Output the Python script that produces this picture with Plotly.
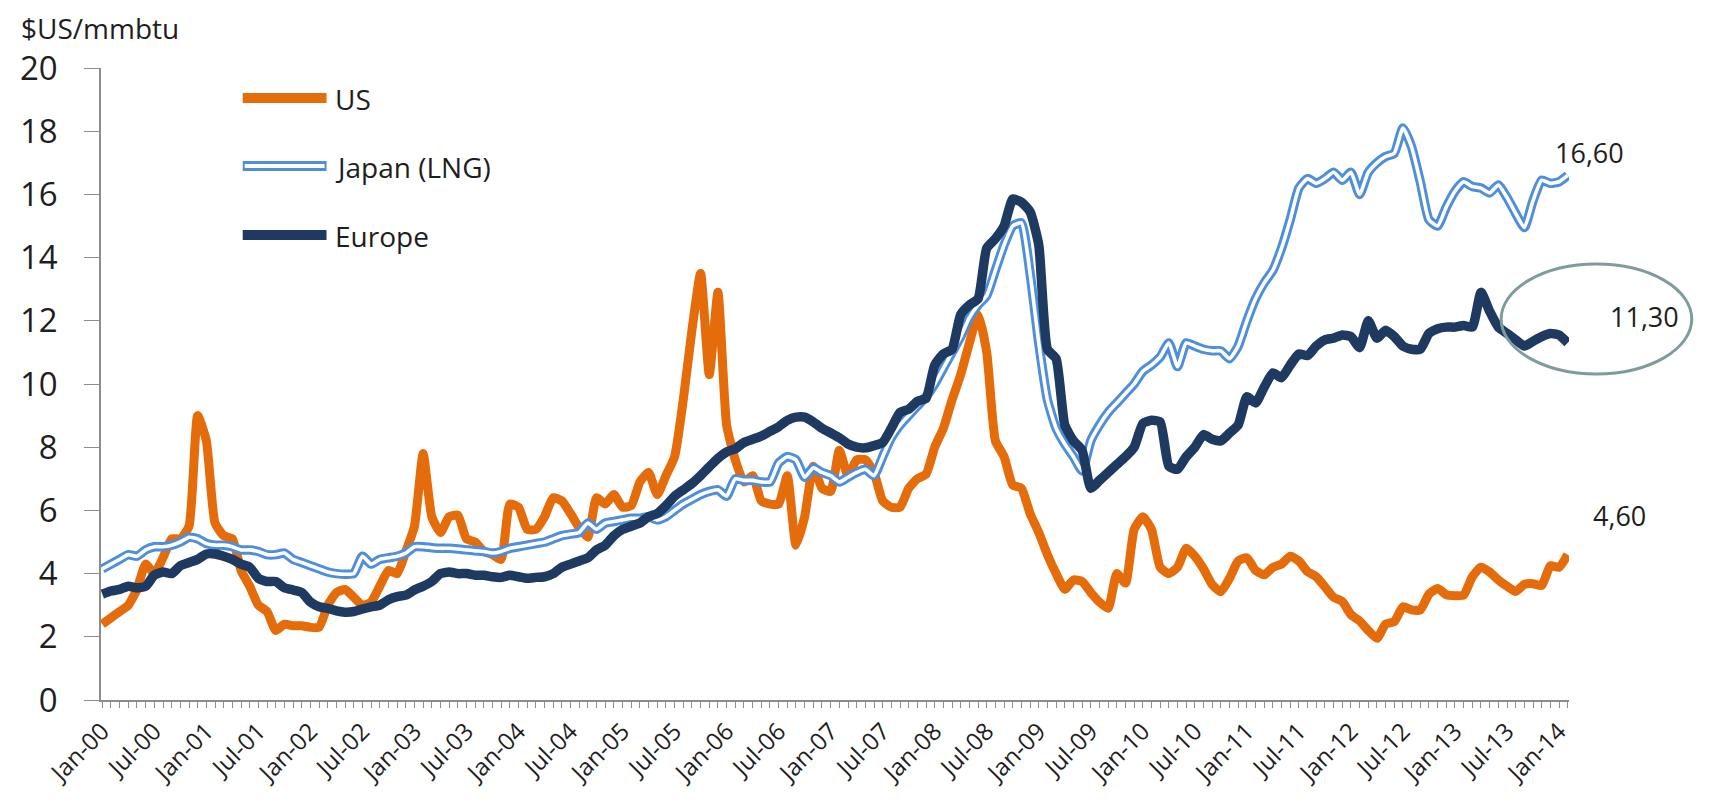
import pandas as pd
import plotly.graph_objects as go

# ---- categories (monthly, Jan-00 .. Feb-14) ----
months = pd.date_range("2000-01-01", periods=170, freq="MS").strftime("%b-%y").tolist()
tick_labels = [m if m[:3] in ("Jan", "Jul") else "" for m in months]

# ---- series values ($US/mmbtu) ----
us = [
    2.4, 2.6, 2.8, 3.0, 3.5, 4.3, 4.0, 4.5, 5.1, 5.1, 5.5, 9.0,            # 2000
    8.2, 5.6, 5.2, 5.1, 4.1, 3.6, 3.0, 2.8, 2.2, 2.4, 2.35, 2.35,          # 2001
    2.3, 2.3, 3.0, 3.4, 3.5, 3.25, 3.0, 3.1, 3.6, 4.1, 4.0, 4.7,           # 2002
    5.5, 7.8, 5.8, 5.3, 5.8, 5.85, 5.1, 5.0, 4.7, 4.6, 4.45, 6.2,          # 2003
    6.1, 5.4, 5.4, 5.8, 6.4, 6.3, 5.9, 5.45, 5.15, 6.4, 6.2, 6.5,          # 2004
    6.1, 6.15, 6.9, 7.2, 6.5, 7.1, 7.7, 9.5, 11.7, 13.5, 10.3, 12.9,       # 2005
    8.7, 7.6, 6.9, 7.1, 6.3, 6.2, 6.2, 7.1, 4.9, 5.8, 7.4, 6.7,            # 2006
    6.6, 7.9, 7.1, 7.6, 7.6, 7.2, 6.3, 6.1, 6.1, 6.7, 7.0, 7.15,           # 2007
    8.0, 8.6, 9.5, 10.3, 11.3, 12.2, 11.0, 8.2, 7.7, 6.8, 6.7, 5.9,        # 2008
    5.3, 4.6, 4.0, 3.5, 3.8, 3.75, 3.4, 3.1, 2.9, 4.0, 3.7, 5.4,           # 2009
    5.8, 5.4, 4.2, 4.0, 4.2, 4.8, 4.55, 4.15, 3.65, 3.43, 3.85, 4.4,       # 2010
    4.5, 4.1, 3.96, 4.2, 4.3, 4.55, 4.4, 4.06, 3.9, 3.58, 3.25, 3.12,      # 2011
    2.7, 2.5, 2.2, 1.95, 2.4, 2.48, 2.95, 2.85, 2.85, 3.35, 3.53, 3.33,    # 2012
    3.3, 3.32, 3.9, 4.2, 4.05, 3.8, 3.6, 3.43, 3.66, 3.68, 3.62, 4.25,     # 2013
    4.2, 4.6,                                                              # 2014
]
japan = [
    4.15, 4.3, 4.45, 4.6, 4.55, 4.75, 4.85, 4.85, 4.9, 5.0, 5.15, 5.1,
    4.95, 4.9, 4.9, 4.85, 4.75, 4.75, 4.7, 4.6, 4.6, 4.65, 4.45, 4.35,
    4.25, 4.15, 4.05, 4.0, 3.98, 4.0, 4.55, 4.3, 4.45, 4.5, 4.55, 4.65,
    4.85, 4.85, 4.82, 4.8, 4.8, 4.78, 4.75, 4.72, 4.7, 4.65, 4.7, 4.8,
    4.85, 4.9, 4.95, 5.0, 5.1, 5.2, 5.25, 5.3, 5.6, 5.4, 5.6, 5.65,
    5.7, 5.75, 5.75, 5.8, 5.7, 5.8, 6.0, 6.2, 6.35, 6.5, 6.6, 6.65,
    6.45, 7.0, 6.95, 6.95, 6.9, 6.9, 7.5, 7.7, 7.6, 7.05, 7.35, 7.2,
    7.1, 6.9, 7.05, 7.2, 7.3, 7.1, 7.7, 8.3, 8.7, 9.0, 9.3, 9.6,
    10.0, 10.5, 11.0, 11.5, 12.1, 12.5, 12.8, 13.6, 14.4, 15.0, 15.1, 13.5,
    11.3, 9.5, 8.6, 8.1, 7.7, 7.25, 8.2, 8.7, 9.1, 9.4, 9.7, 10.0,
    10.4, 10.6, 10.85, 11.3, 10.55, 11.3, 11.2, 11.1, 11.05, 11.05, 10.8, 11.2,
    12.0, 12.7, 13.2, 13.6, 14.3, 15.2, 16.2, 16.5, 16.35, 16.5, 16.7, 16.45,
    16.7, 16.0, 16.7, 17.0, 17.2, 17.3, 18.1, 17.5, 16.4, 15.2, 15.0, 15.6,
    16.1, 16.4, 16.25, 16.2, 16.05, 16.3, 15.9, 15.4, 14.95, 15.8, 16.45, 16.35,
    16.4, 16.6,
]
europe = [
    3.35, 3.45, 3.5, 3.6, 3.55, 3.6, 3.95, 4.05, 4.0, 4.25, 4.35, 4.45,
    4.62, 4.62, 4.55, 4.45, 4.3, 4.2, 3.85, 3.75, 3.75, 3.55, 3.48, 3.4,
    3.1, 2.95, 2.9, 2.82, 2.78, 2.8, 2.88, 2.95, 3.0, 3.17, 3.27, 3.32,
    3.48, 3.6, 3.75, 4.0, 4.05, 4.0, 4.0, 3.95, 3.95, 3.9, 3.88, 3.95,
    3.9, 3.85, 3.88, 3.9, 4.0, 4.2, 4.3, 4.4, 4.5, 4.75, 4.9, 5.2,
    5.4, 5.5, 5.6, 5.8, 5.9, 6.15, 6.45, 6.65, 6.85, 7.1, 7.38, 7.65,
    7.85, 7.95, 8.15, 8.25, 8.35, 8.5, 8.65, 8.85, 8.95, 8.95, 8.8, 8.6,
    8.45, 8.3, 8.1, 8.0, 7.98, 8.05, 8.15, 8.6, 9.1, 9.2, 9.45, 9.55,
    10.6, 10.95, 11.1, 12.2, 12.5, 12.7, 14.3, 14.6, 15.0, 15.85, 15.75, 15.45,
    14.4, 11.1, 10.8, 8.7, 8.2, 7.9, 6.7, 6.95, 7.2, 7.45, 7.7, 8.0,
    8.75, 8.85, 8.8, 7.4, 7.3, 7.7, 8.0, 8.4, 8.25, 8.2, 8.45, 8.7,
    9.6, 9.4, 9.9, 10.35, 10.2, 10.6, 10.95, 10.9, 11.2, 11.4, 11.45, 11.55,
    11.5, 11.15, 12.0, 11.45, 11.7, 11.5, 11.2, 11.1, 11.1, 11.6, 11.75, 11.8,
    11.8, 11.85, 11.8, 12.9, 12.3, 11.8, 11.6, 11.4, 11.2, 11.35, 11.5, 11.6,
    11.55, 11.3,
]
series_names = ["US", "Japan (LNG)", "Europe"]
end_labels = ["4,60", "16,60", "11,30"]
y_title = "$US/mmbtu"

assert len(us) == len(japan) == len(europe) == len(months)

# ---- styling ----
ORANGE = "#E46C0A"
BLUE = "#4F8EDB"
NAVY = "#1F3A60"
AXIS = "#8C8C8C"
TXT = "#1E1E1E"
FONT = "Open Sans"

W, H = 1724, 805
OFF = 8                              # page body margin offset
L, R, T, B = 98, 1569, 68, 700       # plot area in page pixels


def px(x):
    return (x - L) / (R - L)


def py(y):
    return (B - y) / (B - T)


spline = dict(shape="spline", smoothing=0.5)

fig = go.Figure()
fig.add_trace(go.Scatter(x=months, y=us, mode="lines", name=series_names[0],
                         line=dict(color=ORANGE, width=9, **spline)))
fig.add_trace(go.Scatter(x=months, y=japan, mode="lines", name=series_names[1],
                         line=dict(color=BLUE, width=9.5, **spline)))
fig.add_trace(go.Scatter(x=months, y=japan, mode="lines", name=series_names[1] + " core",
                         line=dict(color="white", width=3.6, **spline)))
fig.add_trace(go.Scatter(x=months, y=europe, mode="lines", name=series_names[2],
                         line=dict(color=NAVY, width=9.5, **spline)))

shapes = []
annotations = []

# manual legend
leg_rows = [(98, ORANGE, None), (166, BLUE, "white"), (235, NAVY, None)]
for (yy, col, core), name in zip(leg_rows, series_names):
    shapes.append(dict(type="line", xref="paper", yref="paper",
                       x0=px(240), x1=px(324), y0=py(yy), y1=py(yy),
                       line=dict(color=col, width=10)))
    if core:
        shapes.append(dict(type="line", xref="paper", yref="paper",
                           x0=px(242), x1=px(322), y0=py(yy), y1=py(yy),
                           line=dict(color=core, width=4)))
    annotations.append(dict(text=name, xref="paper", yref="paper",
                            x=px(330), y=py(yy + 1), xanchor="left", yanchor="middle",
                            showarrow=False, font=dict(family=FONT, size=28, color=TXT)))

# ellipse around the Europe end value
shapes.append(dict(type="circle", xref="paper", yref="paper",
                   x0=px(1501), x1=px(1692), y0=py(374), y1=py(264),
                   line=dict(color="#7E9C9C", width=3)))

# end-value labels
for (xx, yy), txt in zip([(1620, 515), (1590, 152), (1645, 316)], end_labels):
    annotations.append(dict(text=txt, xref="paper", yref="paper", x=px(xx), y=py(yy),
                            xanchor="center", yanchor="middle", showarrow=False,
                            font=dict(family=FONT, size=27, color=TXT)))

# y-axis unit title
annotations.append(dict(text=y_title,
                        xref="paper", yref="paper", x=px(16), y=py(28),
                        xanchor="left", yanchor="middle", showarrow=False,
                        font=dict(family=FONT, size=28, color=TXT)))

fig.update_layout(
    width=W, height=H,
    margin=dict(l=L - OFF, r=W - (R - OFF), t=T - OFF, b=H - (B - OFF), pad=0),
    paper_bgcolor="white", plot_bgcolor="white",
    showlegend=False,
    shapes=shapes, annotations=annotations,
    xaxis=dict(type="category", range=[-0.15, 169.15],
               tickmode="array", tickvals=months, ticktext=tick_labels,
               ticks="outside", ticklen=6, tickwidth=1, tickcolor=AXIS,
               showline=True, linecolor=AXIS, linewidth=1.5,
               tickangle=-45, tickfont=dict(family=FONT, size=24, color=TXT),
               showgrid=False, zeroline=False),
    yaxis=dict(range=[0, 20], tick0=0, dtick=2,
               ticks="outside", ticklen=15, tickwidth=1, tickcolor=AXIS,
               showline=True, linecolor=AXIS, linewidth=1.5,
               ticklabelstandoff=20,
               tickfont=dict(family=FONT, size=33, color=TXT),
               showgrid=False, zeroline=False),
)

fig.write_html("out.html")
